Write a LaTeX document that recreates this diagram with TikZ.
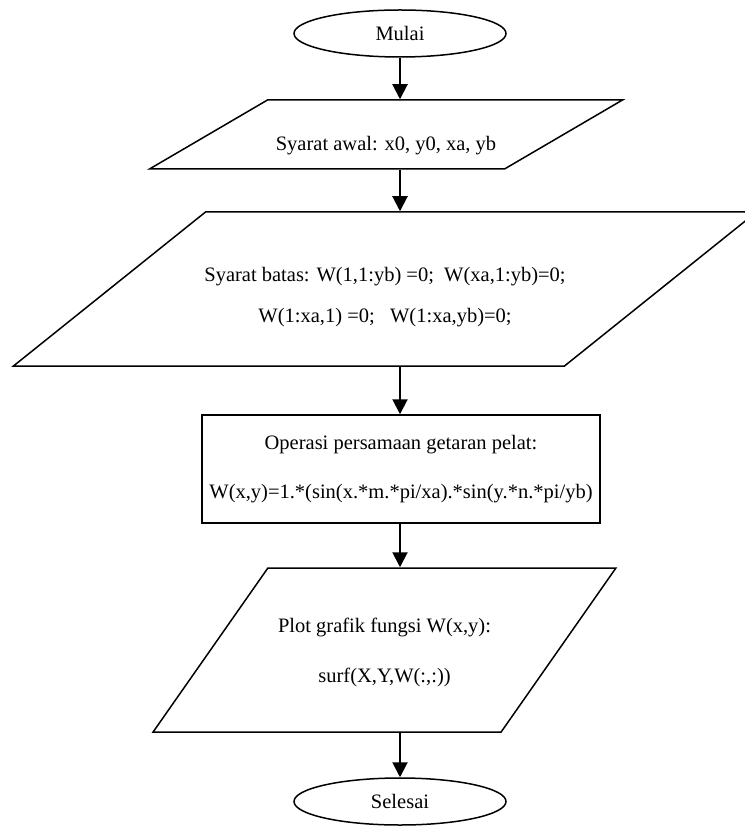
\documentclass[tikz,border=0pt]{standalone}
\usepackage{fontspec}
\setmainfont{Liberation Serif}
\usetikzlibrary{shapes.geometric,arrows.meta}
\begin{document}
\begin{tikzpicture}[x=0.5pt,y=-0.5pt,
        every node/.style={font=\fontsize{10.25}{12.3}\selectfont},
        terminal/.style={draw,ellipse,line width=0.75pt,minimum width=106pt,minimum height=23.5pt,inner sep=0pt},
        process/.style={draw,rectangle,line width=0.75pt,inner sep=0pt,align=center},
        io/.style={draw,rectangle,line width=0.75pt,inner sep=0pt},
        flowarrow/.style={-{Triangle[width=7.5pt,length=7.5pt]},line width=1pt}]
        \useasboundingbox (0,0) rectangle (744,833);
        % start
        \node[terminal] (mulai) at (400,33.5) {Mulai};
        % input: syarat awal
        \node[io,minimum width=177.5pt,minimum height=34.5pt,xslant=1.71] (awal) at (386,134.5) {};
        \node (awaltext) at (386,146) {Syarat awal: x0, y0, xa, yb};
        % input: syarat batas
        \node[io,minimum width=275.5pt,minimum height=77pt,xslant=1.247] (batas) at (385,289) {};
        \node[align=center] (batastext) at (385,297.5) {Syarat batas: W(1,1:yb) =0;\ \ W(xa,1:yb)=0;\\[8.2pt]
            W(1:xa,1) =0;\ \ \ W(1:xa,yb)=0;};
        % process
        \node[process,minimum width=199pt,minimum height=54pt] (operasi) at (401,469) {Operasi persamaan getaran pelat:\\[12.2pt]
            W(x,y)=1.*(sin(x.*m.*pi/xa).*sin(y.*n.*pi/yb)};
        % output: plot
        \node[io,minimum width=174pt,minimum height=82pt,xslant=0.70] (plot) at (384.5,650) {};
        \node[align=center] (plottext) at (384.5,652) {Plot grafik fungsi W(x,y):\\[12.7pt]
            surf(X,Y,W(:,:))};
        % end
        \node[terminal] (selesai) at (400,801.5) {Selesai};
        % arrows
        \draw[flowarrow] (mulai.south) -- (mulai.south |- awal.north);
        \draw[flowarrow] (mulai.south |- awal.south) -- (mulai.south |- batas.north);
        \draw[flowarrow] (mulai.south |- batas.south) -- (mulai.south |- operasi.north);
        \draw[flowarrow] (mulai.south |- operasi.south) -- (mulai.south |- plot.north);
        \draw[flowarrow] (mulai.south |- plot.south) -- (selesai.north);
    \end{tikzpicture}
\end{document}
